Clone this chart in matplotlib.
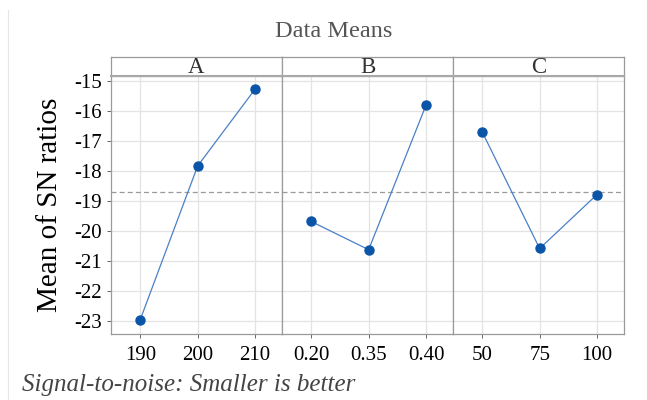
import matplotlib.pyplot as plt
from matplotlib.lines import Line2D

plt.rcParams['font.family'] = ['Liberation Serif', 'DejaVu Serif']

# factor names, levels and mean SN ratios
factors = ['A', 'B', 'C']
levels = [['190', '200', '210'], ['0.20', '0.35', '0.40'], ['50', '75', '100']]
sn_means = [[-22.95, -17.83, -15.27],
            [-19.68, -20.62, -15.80],
            [-16.70, -20.58, -18.78]]
all_vals = [v for s in sn_means for v in s]
overall_mean = sum(all_vals) / len(all_vals)

fig = plt.figure(figsize=(6.47, 4.0), dpi=100)

left, right = 111 / 647, 624 / 647
bottom, top = 1 - 334 / 400, 1 - 76 / 400
strip_h = 19 / 400
w = (right - left) / 3
edge = '#9a9a9a'

for i, name in enumerate(factors):
    ax = fig.add_axes([left + i * w, bottom, w, top - bottom])
    x = [1, 2, 3]
    ax.axhline(overall_mean, color='#9a9a9a', lw=0.9, ls=(0, (4, 2.5)), zorder=2)
    ax.plot(x, sn_means[i], color='#4a80c4', lw=0.9, zorder=3)
    ax.plot(x, sn_means[i], 'o', color='#0b55a8', ms=6.5, zorder=4)
    ax.set_xlim(0.49, 3.47)
    ax.set_ylim(-23.43, -14.83)
    ax.set_xticks(x)
    ax.set_xticklabels(levels[i])
    ax.set_yticks(range(-23, -14))
    ax.grid(True, color='#e3e3e3', lw=0.9, zorder=0)
    ax.set_axisbelow(True)
    for sp in ax.spines.values():
        sp.set_color(edge)
        sp.set_linewidth(0.9)
    ax.tick_params(axis='both', colors='#666666', labelcolor='black',
                   labelsize=15, length=3, width=0.7)
    ax.tick_params(axis='x', pad=6)
    if i == 0:
        ax.set_yticklabels([str(v) for v in range(-23, -14)])
        ax.set_ylabel('Mean of SN ratios', fontsize=21, labelpad=8)
    else:
        ax.tick_params(axis='y', left=False, labelleft=False)

    # header strip
    sx = fig.add_axes([left + i * w, top, w, strip_h])
    sx.set_xticks([])
    sx.set_yticks([])
    for sp in sx.spines.values():
        sp.set_color(edge)
        sp.set_linewidth(0.9)
    sx.spines['bottom'].set_linewidth(1.5)
    sx.spines['bottom'].set_color('#a8a8a8')
    sx.text(0.5, 0.45, name, ha='center', va='center', fontsize=16.5, color='#333333',
            transform=sx.transAxes)

fig.text(0.515, 0.922, 'Data Means', ha='center', va='center', fontsize=17.5, color='#555555')
fig.text(22 / 647, 0.037, 'Signal-to-noise: Smaller is better', ha='left', va='center',
         fontsize=18, style='italic', color='#444444')
fig.add_artist(Line2D([8 / 647, 8 / 647], [0, 0.975], color='#e6e6e6', lw=0.8))

fig.savefig('out.png', dpi=100)
